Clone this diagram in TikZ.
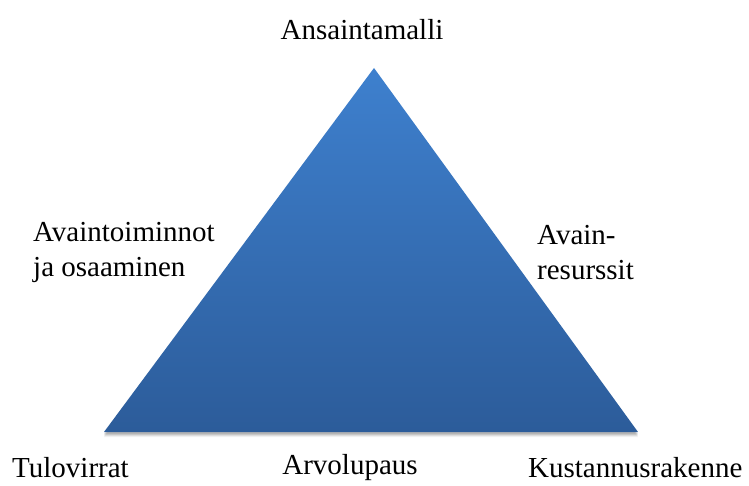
\documentclass[tikz,border=0pt]{standalone}
\usepackage{fontspec}
\setmainfont{Liberation Serif}
\begin{document}
\begin{tikzpicture}[x=1pt,y=-1pt,
  lbl/.style={inner sep=0pt,font=\fontsize{29}{35}\selectfont},
  lbll/.style={lbl,align=left,anchor=west}]
\useasboundingbox (0,0) rectangle (749,486);
\fill[white] (0,0) rectangle (749,486);
% soft shadow under the triangle
\foreach \o/\op in {5/0.05,4/0.07,3/0.09,2/0.11}{
  \fill[black,opacity=\op] (104,432+\o) -- (638,432+\o) -- (374,68+\o) -- cycle;
}
% the triangle with a vertical gradient
\shade[top color={rgb,255:red,62;green,128;blue,206},
       bottom color={rgb,255:red,44;green,92;blue,154}]
  (104,432) -- (638,432) -- (374,68) -- cycle;
\node[lbl] (top) at (362,30) {Ansaintamalli};
\node[lbll] (left) at (33,252) {Avaintoiminnot\\ja osaaminen};
\node[lbll] (right) at (537,253) {Avain-\\resurssit};
\node[lbl,anchor=west] (bl) at (12,468) {Tulovirrat};
\node[lbl] (bm) at (350,468) {Arvolupaus};
\node[lbl,anchor=west] (br) at (528,468) {Kustannusrakenne};
\end{tikzpicture}
\end{document}
